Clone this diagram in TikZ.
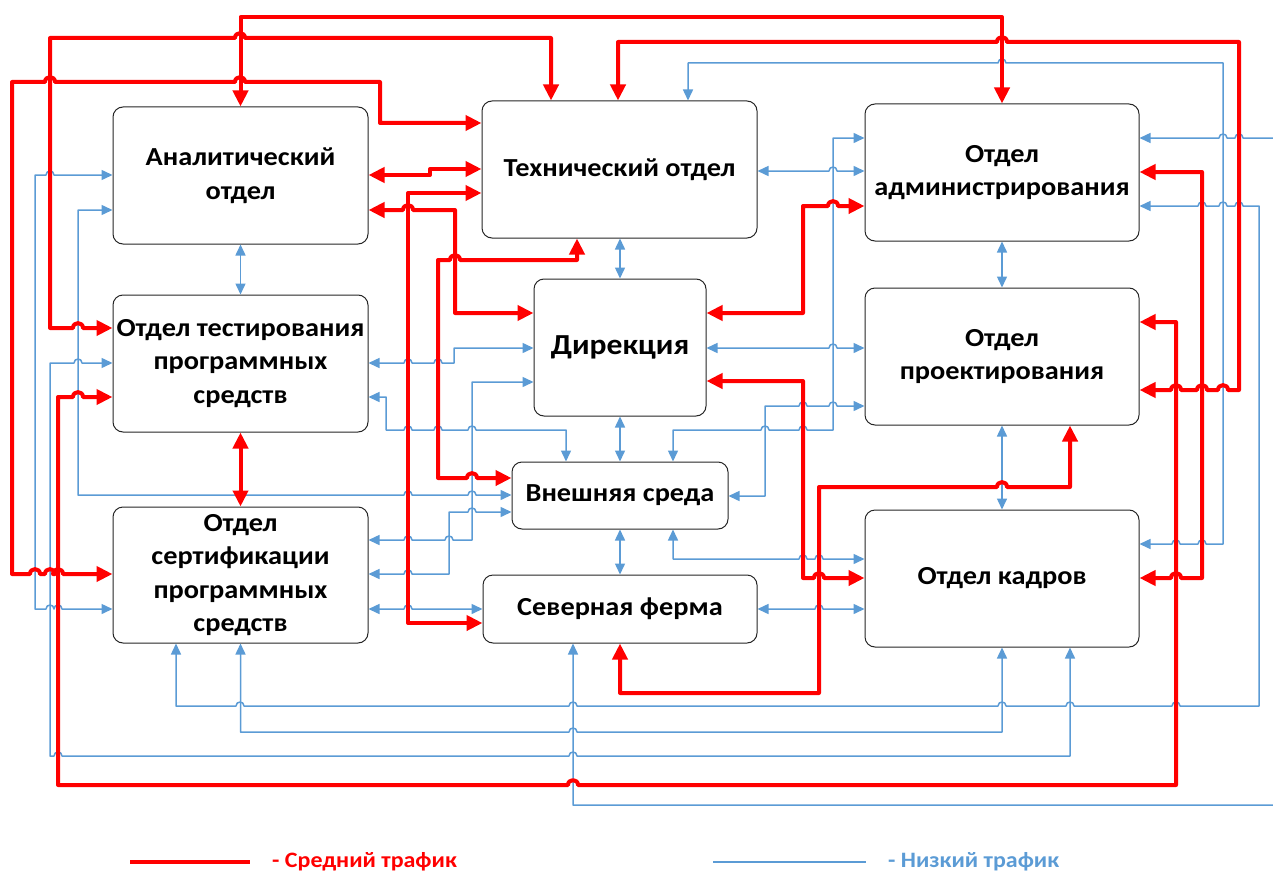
\documentclass[tikz,border=0pt]{standalone}
\usepackage{fontspec}
\setmainfont{Carlito}[FakeStretch=1.09]
\usetikzlibrary{arrows.meta}
\definecolor{lblue}{RGB}{91,155,213}
\definecolor{mred}{RGB}{255,0,0}
% line jumps over vertical lines (blue: r=4, red: r=5)
\newcommand\jr[2]{-- ({#1-4},#2) .. controls ({#1-4},{#2-5.3}) and ({#1+4},{#2-5.3}) .. ({#1+4},#2)}
\newcommand\jl[2]{-- ({#1+4},#2) .. controls ({#1+4},{#2-5.3}) and ({#1-4},{#2-5.3}) .. ({#1-4},#2)}
\newcommand\Jr[2]{-- ({#1-5},#2) .. controls ({#1-5},{#2-6.5}) and ({#1+5},{#2-6.5}) .. ({#1+5},#2)}
\newcommand\Jl[2]{-- ({#1+5},#2) .. controls ({#1+5},{#2-6.5}) and ({#1-5},{#2-6.5}) .. ({#1-5},#2)}
\begin{document}
\begin{tikzpicture}[x=1pt,y=-1pt,
  dept/.style={draw=black!85, line width=1pt, fill=white, rounded corners=10pt,
    inner sep=0pt, align=center, font=\bfseries\fontsize{26}{33.5}\selectfont},
  lo/.style={draw=lblue, line width=1.5pt, line join=round,
    arrows={Triangle[length=11pt,width=10pt]-Triangle[length=11pt,width=10pt]}},
  med/.style={draw=mred, line width=4pt, line join=round,
    arrows={Triangle[length=16pt,width=15pt]-Triangle[length=16pt,width=15pt]}}]
\useasboundingbox (0,0) rectangle (1273,872);

% departments
\node[dept, minimum width=255pt, minimum height=137pt] (A) at (240.5,175.5) {Аналитический\\отдел};
\node[dept, minimum width=275pt, minimum height=137pt] (T) at (619.5,169.5) {Технический отдел};
\node[dept, minimum width=274pt, minimum height=137pt] (Adm) at (1002,172.5) {Отдел\\администрирования};
\node[dept, minimum width=255pt, minimum height=137pt] (Test) at (240.5,363.5) {Отдел тестирования\\программных\\средств};
\node[dept, minimum width=172pt, minimum height=137pt, font=\bfseries\fontsize{29}{34}\selectfont] (D) at (620,347.5) {Дирекция};
\node[dept, minimum width=274pt, minimum height=137pt] (P) at (1002,356.5) {Отдел\\проектирования};
\node[dept, minimum width=216pt, minimum height=67pt] (E) at (620,495.5) {Внешняя среда};
\node[dept, minimum width=255pt, minimum height=136pt] (C) at (240.5,575) {Отдел\\сертификации\\программных\\средств};
\node[dept, minimum width=274pt, minimum height=68pt] (N) at (620,609) {Северная ферма};
\node[dept, minimum width=274pt, minimum height=137pt] (K) at (1002,578.5) {Отдел кадров};

% low traffic
\begin{scope}
\clip (0,0) rectangle (1273,872);
\draw[lo] (A.south) -- (Test.north);
\draw[lo] (D.north |- T.south) -- (D.north);
\draw[lo] (Adm.south) -- (P.north);
\draw[lo] (D.south) -- (E.north);
\draw[lo] (E.south) -- (N.north);
\draw[lo] (P.south) -- (K.north);
\draw[lo] (T.east |- 0,171) \jr{833}{171} -- (Adm.west |- 0,171);
\draw[lo] (D.east |- 0,348) \jr{833}{348} -- (P.west |- 0,348);
\draw[lo] (N.east |- 0,609) \jr{819}{609} -- (K.west |- 0,609);
\draw[lo] (T.north -| 688,0) -- (688,63) \jr{1002}{63} -- (1223,63) -- (1223,544)
  \jl{1202}{544} \jl{1176}{544} -- (K.east |- 0,544);
\draw[lo] (Adm.west |- 0,138) -- (833,138) -- (833,430) \jl{803}{430} \jl{765}{430}
  -- (673,430) -- (E.north -| 673,0);
\draw[lo] (P.west |- 0,406) \jl{833}{406} \jl{803}{406} -- (765,406) -- (765,496) -- (E.east |- 0,496);
\draw[lo] (E.south -| 673,0) -- (673,559) \jr{803}{559} \jr{819}{559} -- (K.west |- 0,559);
\draw[lo] (Test.east |- 0,363) \jr{408}{363} \jr{438}{363} -- (454,363) -- (454,348) -- (D.west |- 0,348);
\draw[lo] (C.east |- 0,540) \jr{408}{540} \jr{449}{540} -- (472,540) -- (472,382) -- (D.west |- 0,382);
\draw[lo] (Test.east |- 0,397) -- (386,397) -- (386,430) \jr{408}{430} \jr{438}{430} \jr{472}{430}
  -- (566,430) -- (E.north -| 566,0);
\draw[lo] (C.east |- 0,574) \jr{408}{574} -- (449,574) -- (449,512) \jr{472}{512} -- (E.west |- 0,512);
\draw[lo] (C.east |- 0,609) \jr{408}{609} -- (N.west |- 0,609);
\draw[lo] (A.west |- 0,210) -- (78,210) -- (78,495) \jr{240}{495} \jr{408}{495} \jr{472}{495}
  -- (E.west |- 0,495);
\draw[lo] (A.west |- 0,175) \jl{50}{175} -- (35,175) -- (35,609) \jr{50}{609} \jr{58}{609}
  -- (C.west |- 0,609);
\draw[lo] (Test.west |- 0,363) \jl{78}{363} -- (50,363) -- (50,756) \jr{58}{756} \jr{573}{756}
  -- (1070,756) -- (K.south -| 1070,0);
\draw[lo] (C.south -| 176,0) -- (176,706) \jr{240}{706} \jr{573}{706} \jr{1002}{706}
  \jr{1070}{706} \jr{1176}{706} -- (1259,706) -- (1259,206) \jl{1239}{206} \jl{1223}{206}
  \jl{1202}{206} -- (Adm.east |- 0,206);
\draw[lo] (C.south) -- (C.south |- 0,732) \jr{573}{732} -- (1002,732) -- (K.south);
\draw[lo] (N.south -| 573,0) -- (573,805) -- (1295,805) -- (1295,138) \jl{1239}{138} \jl{1223}{138}
  -- (Adm.east |- 0,138);
\end{scope}

% medium traffic
\draw[med] (A.north) -- (A.north |- 0,17) -- (1002,17) -- (Adm.north);
\draw[med] (Test.west |- 0,328) \Jl{78}{328} -- (50,328) -- (50,38) \Jr{240}{38} -- (551,38)
  -- (T.north -| 551,0);
\draw[med] (C.west |- 0,574) \Jl{58}{574} \Jl{50}{574} \Jl{35}{574} -- (12,574) -- (12,82)
  \Jr{50}{82} \Jr{240}{82} -- (380,82) -- (380,123) -- (T.west |- 0,123);
\draw[med] (A.east |- 0,175) -- (430,175) -- (430,169) -- (T.west |- 0,169);
\draw[med] (A.east |- 0,210) \Jr{408}{210} -- (455,210) -- (455,313) -- (D.west |- 0,313);
\draw[med] (T.west |- 0,193) -- (408,193) -- (408,623) -- (N.west |- 0,623);
\draw[med] (T.south -| 577,0) -- (577,260) \Jl{455}{260} -- (438,260) -- (438,478) \Jr{472}{478}
  -- (E.west |- 0,478);
\draw[med] (D.east |- 0,313) -- (803,313) -- (803,206) \Jr{833}{206} -- (Adm.west |- 0,206);
\draw[med] (D.east |- 0,381) -- (803,381) -- (803,578) \Jr{819}{578} -- (K.west |- 0,578);
\draw[med] (N.south -| 620,0) -- (620,693) -- (819,693) -- (819,487) \Jr{1002}{487} -- (1070,487)
  -- (P.south -| 1070,0);
\draw[med] (Test.south) -- (C.north);
\draw[med] (T.north -| 618,0) -- (618,42) \Jr{1002}{42} -- (1239,42) -- (1239,390)
  \Jl{1223}{390} \Jl{1202}{390} \Jl{1176}{390} -- (P.east |- 0,390);
\draw[med] (Adm.east |- 0,172) -- (1202,172) -- (1202,578) \Jl{1176}{578} -- (K.east |- 0,578);
\draw[med] (P.east |- 0,322) -- (1176,322) -- (1176,785) \Jl{573}{785} -- (58,785) -- (58,397)
  \Jr{78}{397} -- (Test.west |- 0,397);

% legend
\coordinate (r1) at (130,862);
\coordinate (r2) at (250,862);
\coordinate (b1) at (713,862);
\coordinate (b2) at (866,862);
\draw[mred, line width=4pt] (r1) -- (r2);
\draw[lblue, line width=1.5pt] (b1) -- (b2);
\node[anchor=west, inner sep=0pt, text=mred, font=\bfseries\fontsize{22}{24}\selectfont] (lmed) at (272,862) {- Средний трафик};
\node[anchor=west, inner sep=0pt, text=lblue, font=\bfseries\fontsize{22}{24}\selectfont] (llow) at (888,862) {- Низкий трафик};
\end{tikzpicture}
\end{document}
